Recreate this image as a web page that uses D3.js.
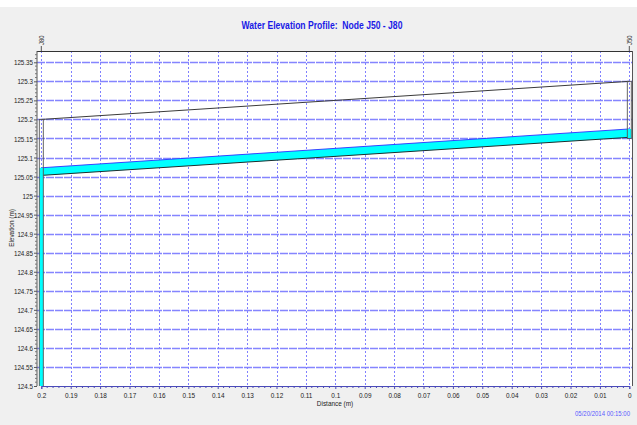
<!DOCTYPE html>
<html>
<head>
<meta charset="utf-8">
<script src="https://cdn.jsdelivr.net/npm/d3@7"></script>
<style>
  body { margin: 0; background: #f0f0f0; }
  svg { display: block; }
  text { font-family: "Liberation Sans", Arial, sans-serif; }
</style>
</head>
<body>
<svg id="vis" width="637" height="425"></svg>
<script>
// distance ticks (m) and elevation ticks (m)
const xTicks = [0.2, 0.19, 0.18, 0.17, 0.16, 0.15, 0.14, 0.13, 0.12, 0.11, 0.1,
  0.09, 0.08, 0.07, 0.06, 0.05, 0.04, 0.03, 0.02, 0.01, 0];
const yTicks = [124.5, 124.55, 124.6, 124.65, 124.7, 124.75, 124.8, 124.85, 124.9,
  124.95, 125, 125.05, 125.1, 125.15, 125.2, 125.25, 125.3, 125.35];

// nodes along the profile
const nodeNames = ["J80", "J50"];
const nodeDist = [0.2, 0];
const nodeBottom = [124.4, 125.15];
const nodeTop = [125.2, 125.3];
const nodeWater = [125.073, 125.175];

// conduit between the nodes
const pipeDist = [0.2, 0];
const pipeInvert = [125.053, 125.153];
const pipeCrown = [125.2, 125.3];
const waterSurface = [125.073, 125.175];

const W = 637, H = 425;
const m = { left: 37, right: 4, top: 51, bottom: 39 };

const svg = d3.select("#vis");

// squeeze text horizontally, the original uses a condensed font
function narrow(sel, k) {
  sel.each(function () {
    const len = this.getComputedTextLength();
    d3.select(this).attr("textLength", len * k).attr("lengthAdjust", "spacingAndGlyphs");
  });
}

// top white strip
svg.append("rect").attr("width", W).attr("height", 7).attr("fill", "#fff");

const x = d3.scaleLinear().domain([0.2, 0]).range([41.3, 629.3]);
const y = d3.scaleLinear().domain([124.5, 125.35]).range([H - m.bottom, 62.3]);

const x0 = m.left, x1 = W - m.right, y0 = m.top, y1 = H - m.bottom;

// plot background
svg.append("rect")
  .attr("x", x0).attr("y", y0)
  .attr("width", x1 - x0).attr("height", y1 - y0)
  .attr("fill", "#fff");

svg.append("clipPath").attr("id", "clip")
  .append("rect")
  .attr("x", x0).attr("y", y0)
  .attr("width", x1 - x0).attr("height", y1 - y0);

// grid
const grid = svg.append("g").attr("clip-path", "url(#clip)");
grid.selectAll(".hg")
  .data(yTicks.slice(1))
  .join("line")
  .attr("x1", x0).attr("x2", x1)
  .attr("y1", d => Math.round(y(d)) + 0.5)
  .attr("y2", d => Math.round(y(d)) + 0.5)
  .attr("stroke", "#8585ff")
  .attr("stroke-width", 1.3)
  .attr("stroke-dasharray", "8,1");
grid.selectAll(".vg")
  .data(xTicks)
  .join("line")
  .attr("x1", d => Math.round(x(d)) + 0.5)
  .attr("x2", d => Math.round(x(d)) + 0.5)
  .attr("y1", y0).attr("y2", y1)
  .attr("stroke", "#8080ff")
  .attr("stroke-width", 1)
  .attr("stroke-dasharray", "2,2");

const plot = svg.append("g").attr("clip-path", "url(#clip)");

// water in conduit
const pts = pipeDist.map((d, i) => ({ d, inv: pipeInvert[i], crown: pipeCrown[i], ws: waterSurface[i] }));

plot.append("path")
  .datum(pts)
  .attr("fill", "#00ffff")
  .attr("d", d3.area().x(d => x(d.d)).y0(d => y(d.inv)).y1(d => y(d.ws)));

plot.append("path")
  .datum(pts)
  .attr("fill", "none")
  .attr("stroke", "#3030ff")
  .attr("stroke-width", 0.9)
  .attr("d", d3.line().x(d => x(d.d)).y(d => y(d.ws)));

plot.append("path")
  .datum(pts)
  .attr("fill", "none")
  .attr("stroke", "#1e2e2e")
  .attr("stroke-width", 1)
  .attr("d", d3.line().x(d => x(d.d)).y(d => y(d.inv)));

plot.append("path")
  .datum(pts)
  .attr("fill", "none")
  .attr("stroke", "#3a3a3a")
  .attr("stroke-width", 1)
  .attr("d", d3.line().x(d => x(d.d)).y(d => y(d.crown)));

// nodes
const nodes = nodeNames.map((n, i) => ({
  name: n, d: nodeDist[i], bot: nodeBottom[i], top: nodeTop[i], ws: nodeWater[i]
}));

plot.selectAll(".nodewater")
  .data(nodes)
  .join("rect")
  .attr("x", d => x(d.d) - 2)
  .attr("width", 4)
  .attr("y", d => y(d.ws))
  .attr("height", d => y(d.bot) - y(d.ws))
  .attr("fill", "#00ffff");

plot.selectAll(".nodebox")
  .data(nodes)
  .join("rect")
  .attr("x", d => x(d.d) - 2)
  .attr("width", 4)
  .attr("y", d => y(d.top))
  .attr("height", d => y(d.bot) - y(d.top))
  .attr("fill", "none")
  .attr("stroke", "#555")
  .attr("stroke-width", 0.9);

// plot frame
svg.append("line").attr("x1", x0).attr("x2", x1).attr("y1", y0 + 0.5).attr("y2", y0 + 0.5)
  .attr("stroke", "#333");
svg.append("line").attr("x1", x1 - 0.5).attr("x2", x1 - 0.5).attr("y1", y0).attr("y2", y1)
  .attr("stroke", "#555");

// axes
const fmt = d3.format("~g");
const xAxis = svg.append("g")
  .attr("transform", `translate(0,${y1})`)
  .call(d3.axisBottom(x).tickValues(xTicks).tickFormat(fmt).tickSize(3).tickPadding(3));
xAxis.select(".domain").attr("stroke", "#4a4ab8");
xAxis.selectAll(".tick line").attr("stroke", "#4a4ab8");
xAxis.selectAll("text").attr("font-size", 8).attr("fill", "#222").call(narrow, 0.8);

const xMinor = d3.range(0, 201, 2).map(v => v / 1000).filter(v => Math.round(v * 1000) % 10 !== 0);
xAxis.selectAll(".minor")
  .data(xMinor)
  .join("line")
  .attr("x1", d => x(d)).attr("x2", d => x(d))
  .attr("y1", 0).attr("y2", 2)
  .attr("stroke", "#4a4ab8");

const yAxis = svg.append("g")
  .attr("transform", `translate(${x0},0)`)
  .call(d3.axisLeft(y).tickValues(yTicks).tickFormat(fmt).tickSize(3).tickPadding(1));
yAxis.select(".domain").attr("stroke", "#555").attr("d", `M0,${y0}V${y1}`);
yAxis.selectAll(".tick line").attr("stroke", "#555");
yAxis.selectAll("text").attr("font-size", 8).attr("fill", "#222").call(narrow, 0.78);

const yMinor = d3.range(12450, 12538, 1).filter(v => v % 5 !== 0).map(v => v / 100);
yAxis.selectAll(".minor")
  .data(yMinor)
  .join("line")
  .attr("x1", 0).attr("x2", -2)
  .attr("y1", d => y(d)).attr("y2", d => y(d))
  .attr("stroke", "#777");

// node labels above plot
const nodeLabels = svg.append("g");
nodeLabels.selectAll("line")
  .data(nodes)
  .join("line")
  .attr("x1", d => x(d.d)).attr("x2", d => x(d.d))
  .attr("y1", y0 - 5).attr("y2", y0)
  .attr("stroke", "#555");
nodeLabels.selectAll("text")
  .data(nodes)
  .join("text")
  .attr("transform", d => `translate(${x(d.d) + 2.5},${y0 - 6}) rotate(-90)`)
  .attr("font-size", 7)
  .attr("fill", "#333")
  .text(d => d.name)
  .call(narrow, 0.85);

// titles
svg.append("text")
  .attr("x", 322).attr("y", 29)
  .attr("text-anchor", "middle")
  .attr("font-size", 11)
  .attr("font-weight", "bold")
  .attr("fill", "#1a1ae6")
  .style("white-space", "pre")
  .text("Water Elevation Profile:  Node J50 - J80")
  .call(narrow, 0.78);

svg.append("text")
  .attr("x", 335).attr("y", 406)
  .attr("text-anchor", "middle")
  .attr("font-size", 8)
  .attr("fill", "#222")
  .text("Distance (m)")
  .call(narrow, 0.8);

svg.append("text")
  .attr("transform", "translate(14,228) rotate(-90)")
  .attr("text-anchor", "middle")
  .attr("font-size", 8)
  .attr("fill", "#222")
  .text("Elevation (m)")
  .call(narrow, 0.8);

svg.append("text")
  .attr("transform", "translate(630,416) scale(0.75,1)")
  .attr("text-anchor", "end")
  .attr("font-size", 8)
  .attr("fill", "#5a5aff")
  .text("05/20/2014 00:15:00");
</script>
</body>
</html>
